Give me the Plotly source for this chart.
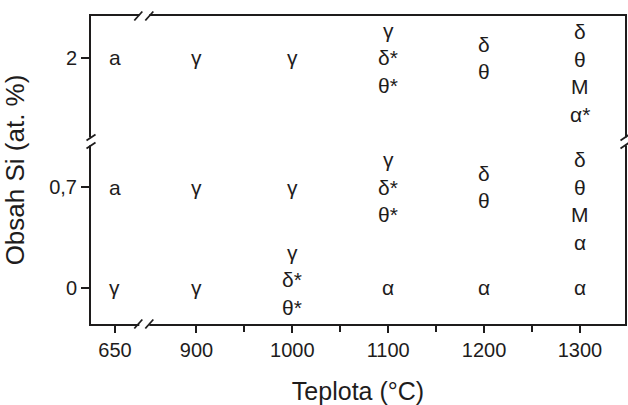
import plotly.graph_objects as go

# Phases found after annealing, per temperature and Si content
temperatures = [650, 900, 1000, 1100, 1200, 1300]
si_levels = [0, 0.7, 2]
x_tick_labels = ["650", "900", "1000", "1100", "1200", "1300"]
y_tick_labels = ["0", "0,7", "2"]

phases_si_2 = [["a"], ["γ"], ["γ"], ["γ", "δ*", "θ*"], ["δ", "θ"], ["δ", "θ", "M", "α*"]]
phases_si_07 = [["a"], ["γ"], ["γ"], ["γ", "δ*", "θ*"], ["δ", "θ"], ["δ", "θ", "M", "α"]]
phases_si_0 = [["γ"], ["γ"], ["γ", "δ*", "θ*"], ["α"], ["α"], ["α"]]
phases = {0: phases_si_0, 0.7: phases_si_07, 2: phases_si_2}

# Broken axes: the stretch below 900 °C and above 0.7 at.% is compressed
X_BREAK_FROM, X_SQUEEZE = 900, 0.34
Y_BREAK_FROM, Y_SQUEEZE = 0.7, 0.69


def x_pos(t):
    return t if t >= X_BREAK_FROM else X_BREAK_FROM - (X_BREAK_FROM - t) * X_SQUEEZE


def y_pos(s):
    return s if s <= Y_BREAK_FROM else Y_BREAK_FROM + (s - Y_BREAK_FROM) * Y_SQUEEZE


INK = "#1e1c1c"
FONT = "Liberation Sans, Arial, sans-serif"
LINE_STEP = 27.5  # px between stacked phase symbols
# vertical nudges (px) for a few stacks
stack_nudge = {(1000, 0): 8, (1300, 0.7): -14, (1300, 2): -15}

fig = go.Figure()
fig.add_trace(go.Scatter(x=[x_pos(t) for t in temperatures], y=[0] * len(temperatures),
                         mode="markers", marker=dict(opacity=0), hoverinfo="skip", showlegend=False))

annotations = []
for s in si_levels:
    for t, stack in zip(temperatures, phases[s]):
        n = len(stack)
        for i, sym in enumerate(stack):
            shift = ((n - 1) / 2 - i) * LINE_STEP + stack_nudge.get((t, s), 0)
            annotations.append(dict(
                x=x_pos(t), y=y_pos(s), xref="x", yref="y", text=sym,
                showarrow=False, yshift=shift, xanchor="center", yanchor="middle",
                font=dict(family=FONT, size=21, color=INK)))

# axis-break marks "//"
x_break = x_pos(740)
y_break = y_pos(1.16)
shapes = []


def slash_pair_h(xc, ypaper):
    out = [dict(type="rect", xref="x", yref="paper", xsizemode="pixel", ysizemode="pixel",
                xanchor=xc, yanchor=ypaper, x0=-5, x1=5, y0=-3, y1=3,
                fillcolor="white", line=dict(width=0), layer="above")]
    for dx in (-6, 5):
        out.append(dict(type="line", xref="x", yref="paper", xsizemode="pixel", ysizemode="pixel",
                        xanchor=xc, yanchor=ypaper, x0=dx - 4, x1=dx + 4, y0=-4.5, y1=4.5,
                        line=dict(color=INK, width=1.8), layer="above"))
    return out


def slash_pair_v(xpaper, yc):
    out = [dict(type="rect", xref="paper", yref="y", xsizemode="pixel", ysizemode="pixel",
                xanchor=xpaper, yanchor=yc, x0=-3, x1=3, y0=-4, y1=4,
                fillcolor="white", line=dict(width=0), layer="above")]
    for dy in (-4, 4):
        out.append(dict(type="line", xref="paper", yref="y", xsizemode="pixel", ysizemode="pixel",
                        xanchor=xpaper, yanchor=yc, x0=-4.5, x1=4.5, y0=dy - 3, y1=dy + 3,
                        line=dict(color=INK, width=1.8), layer="above"))
    return out


shapes += slash_pair_h(x_break, 0) + slash_pair_h(x_break, 1)
shapes += slash_pair_v(0, y_break) + slash_pair_v(1, y_break)

fig.update_layout(
    width=628, height=405,
    margin=dict(l=91, r=1, t=16, b=81),
    paper_bgcolor="white", plot_bgcolor="white",
    annotations=annotations, shapes=shapes,
    font=dict(family=FONT, color=INK),
    xaxis=dict(
        range=[790, 1347], showgrid=False, zeroline=False,
        showline=True, linecolor=INK, linewidth=2, mirror=True,
        ticks="outside", ticklen=7, tickwidth=1.5, tickcolor=INK,
        tickvals=[x_pos(t) for t in temperatures], ticktext=x_tick_labels,
        tickfont=dict(size=20, family=FONT, color=INK),
        minor=dict(tickvals=[950, 1050, 1150, 1250], ticks="outside", ticklen=6,
                   tickwidth=1.5, tickcolor=INK, showgrid=False),
        title=dict(text="Teplota (°C)", font=dict(size=25, family=FONT, color=INK), standoff=22),
    ),
    yaxis=dict(
        range=[-0.25, 1.8875], showgrid=False, zeroline=False,
        showline=True, linecolor=INK, linewidth=2, mirror=True,
        ticks="outside", ticklen=8, tickwidth=1.5, tickcolor=INK,
        tickvals=[y_pos(s) for s in si_levels], ticktext=y_tick_labels,
        tickfont=dict(size=20, family=FONT, color=INK),
        title=dict(text="Obsah Si (at. %)", font=dict(size=26, family=FONT, color=INK), standoff=17),
    ),
)

fig.write_html("out.html")
